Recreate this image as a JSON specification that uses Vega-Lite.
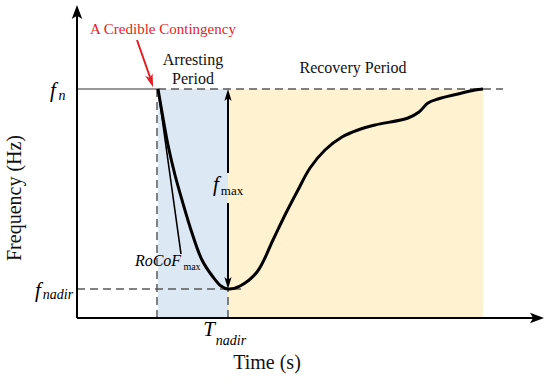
{
  "$schema": "https://vega.github.io/schema/vega-lite/v6.json",
  "width": 550,
  "height": 381,
  "padding": 0,
  "autosize": {"type": "fit", "contains": "padding"},
  "config": {"view": {"stroke": null}, "text": {"font": "Liberation Serif"}},
  "datasets": {
    "periods": [
      {"period": "Arresting", "t0": 81, "t1": 151, "f0": 0, "f1": 229},
      {"period": "Recovery", "t0": 151, "t1": 406, "f0": 0, "f1": 229}
    ],
    "dashed": [
      {"t0": 80, "f0": 0, "t1": 80, "f1": 229},
      {"t0": 151, "f0": 0, "t1": 151, "f1": 29},
      {"t0": 0, "f0": 29, "t1": 166, "f1": 29},
      {"t0": 81, "f0": 229, "t1": 426, "f1": 229}
    ],
    "thin": [
      {"t0": 0, "f0": 229, "t1": 81, "f1": 229}
    ],
    "axes": [
      {"t0": 0, "f0": 0, "t1": 0, "f1": 306},
      {"t0": 0, "f0": 0, "t1": 460, "f1": 0}
    ],
    "fmax": [
      {"t0": 151, "f0": 224, "t1": 151, "f1": 145},
      {"t0": 151, "f0": 115, "t1": 151, "f1": 34}
    ],
    "tangent": [
      {"t0": 81, "f0": 229, "t1": 104, "f1": 64}
    ],
    "redline": [
      {"t0": 60, "f0": 278, "t1": 74, "f1": 238}
    ],
    "curve": [
      {"t": 81, "f": 229},
      {"t": 86, "f": 200},
      {"t": 91, "f": 173},
      {"t": 98, "f": 143},
      {"t": 105, "f": 118},
      {"t": 115, "f": 85},
      {"t": 125, "f": 58},
      {"t": 136, "f": 41},
      {"t": 144, "f": 32},
      {"t": 151, "f": 29},
      {"t": 163, "f": 32},
      {"t": 180, "f": 46},
      {"t": 196, "f": 78},
      {"t": 208, "f": 103},
      {"t": 221, "f": 128},
      {"t": 233, "f": 150},
      {"t": 248, "f": 168},
      {"t": 265, "f": 181},
      {"t": 281, "f": 188},
      {"t": 298, "f": 193},
      {"t": 331, "f": 200},
      {"t": 342, "f": 206},
      {"t": 351, "f": 215},
      {"t": 361, "f": 219},
      {"t": 381, "f": 224},
      {"t": 398, "f": 228},
      {"t": 406, "f": 229}
    ],
    "headsUp": [
      {"t": 0, "f": 306, "size": "big"},
      {"t": 151, "f": 223, "size": "small"}
    ],
    "headsRight": [
      {"t": 460, "f": 0}
    ],
    "headsDown": [
      {"t": 151, "f": 35}
    ],
    "headsRed": [
      {"t": 74, "f": 237}
    ],
    "labels": [
      {"group": "contingency", "t": 86, "f": 289, "label": "A Credible Contingency"},
      {"group": "period", "t": 116, "f": 258, "label": "Arresting"},
      {"group": "period", "t": 116, "f": 239, "label": "Period"},
      {"group": "period", "t": 276, "f": 250, "label": "Recovery Period"},
      {"group": "axis", "t": 190, "f": -45, "label": "Time (s)"},
      {"group": "symbol", "t": -24, "f": 227, "label": "f"},
      {"group": "symbol", "t": -39, "f": 27, "label": "f"},
      {"group": "symbol", "t": 139, "f": 133, "label": "f"},
      {"group": "symbol", "t": 132, "f": -12, "label": "T"},
      {"group": "sub", "t": -15, "f": 222, "label": "n"},
      {"group": "sub", "t": -19, "f": 23, "label": "nadir"},
      {"group": "sub", "t": 154, "f": -23, "label": "nadir"},
      {"group": "rocof", "t": 81, "f": 57, "label": "RoCoF"},
      {"group": "maxbig", "t": 155, "f": 127, "label": "max"},
      {"group": "maxsmall", "t": 115, "f": 51, "label": "max"}
    ],
    "ylabel": [
      {"t": -62, "f": 120, "label": "Frequency (Hz)"}
    ]
  },
  "layer": [
    {
      "data": {"name": "periods"},
      "mark": {"type": "rect"},
      "encoding": {
        "x": {"field": "t0", "type": "quantitative", "scale": {"domain": [-77, 473], "nice": false, "zero": false}, "axis": null},
        "x2": {"field": "t1"},
        "y": {"field": "f0", "type": "quantitative", "scale": {"domain": [-63, 318], "nice": false, "zero": false}, "axis": null},
        "y2": {"field": "f1"},
        "color": {"field": "period", "type": "nominal", "scale": {"domain": ["Arresting", "Recovery"], "range": ["#dde8f5", "#fef2d0"]}, "legend": null}
      }
    },
    {
      "data": {"name": "dashed"},
      "mark": {"type": "rule", "color": "#5a5a5a", "strokeWidth": 1.5, "strokeDash": [8, 5]},
      "encoding": {
        "x": {"field": "t0", "type": "quantitative"},
        "x2": {"field": "t1"},
        "y": {"field": "f0", "type": "quantitative"},
        "y2": {"field": "f1"}
      }
    },
    {
      "data": {"name": "thin"},
      "mark": {"type": "rule", "color": "#333333", "strokeWidth": 1},
      "encoding": {
        "x": {"field": "t0", "type": "quantitative"},
        "x2": {"field": "t1"},
        "y": {"field": "f0", "type": "quantitative"},
        "y2": {"field": "f1"}
      }
    },
    {
      "data": {"name": "axes"},
      "mark": {"type": "rule", "color": "#000000", "strokeWidth": 2},
      "encoding": {
        "x": {"field": "t0", "type": "quantitative"},
        "x2": {"field": "t1"},
        "y": {"field": "f0", "type": "quantitative"},
        "y2": {"field": "f1"}
      }
    },
    {
      "data": {"name": "fmax"},
      "mark": {"type": "rule", "color": "#000000", "strokeWidth": 2},
      "encoding": {
        "x": {"field": "t0", "type": "quantitative"},
        "x2": {"field": "t1"},
        "y": {"field": "f0", "type": "quantitative"},
        "y2": {"field": "f1"}
      }
    },
    {
      "data": {"name": "tangent"},
      "mark": {"type": "rule", "color": "#000000", "strokeWidth": 1.6},
      "encoding": {
        "x": {"field": "t0", "type": "quantitative"},
        "x2": {"field": "t1"},
        "y": {"field": "f0", "type": "quantitative"},
        "y2": {"field": "f1"}
      }
    },
    {
      "data": {"name": "redline"},
      "mark": {"type": "rule", "color": "#e41e25", "strokeWidth": 2},
      "encoding": {
        "x": {"field": "t0", "type": "quantitative"},
        "x2": {"field": "t1"},
        "y": {"field": "f0", "type": "quantitative"},
        "y2": {"field": "f1"}
      }
    },
    {
      "data": {"name": "curve"},
      "mark": {"type": "line", "color": "#000000", "strokeWidth": 3, "interpolate": "catmull-rom"},
      "encoding": {
        "x": {"field": "t", "type": "quantitative"},
        "y": {"field": "f", "type": "quantitative"}
      }
    },
    {
      "data": {"name": "headsUp"},
      "transform": [{"filter": "datum.size == 'big'"}],
      "mark": {"type": "point", "filled": true, "color": "#000000", "opacity": 1, "shape": "M0,-1L0.75,1L0,0.55L-0.75,1Z", "size": 196, "angle": 0},
      "encoding": {
        "x": {"field": "t", "type": "quantitative"},
        "y": {"field": "f", "type": "quantitative"}
      }
    },
    {
      "data": {"name": "headsUp"},
      "transform": [{"filter": "datum.size == 'small'"}],
      "mark": {"type": "point", "filled": true, "color": "#000000", "opacity": 1, "shape": "M0,-1L0.6,1L0,0.5L-0.6,1Z", "size": 144, "angle": 0},
      "encoding": {
        "x": {"field": "t", "type": "quantitative"},
        "y": {"field": "f", "type": "quantitative"}
      }
    },
    {
      "data": {"name": "headsRight"},
      "mark": {"type": "point", "filled": true, "color": "#000000", "opacity": 1, "shape": "M0,-1L0.75,1L0,0.55L-0.75,1Z", "size": 196, "angle": 90},
      "encoding": {
        "x": {"field": "t", "type": "quantitative"},
        "y": {"field": "f", "type": "quantitative"}
      }
    },
    {
      "data": {"name": "headsDown"},
      "mark": {"type": "point", "filled": true, "color": "#000000", "opacity": 1, "shape": "M0,-1L0.6,1L0,0.5L-0.6,1Z", "size": 144, "angle": 180},
      "encoding": {
        "x": {"field": "t", "type": "quantitative"},
        "y": {"field": "f", "type": "quantitative"}
      }
    },
    {
      "data": {"name": "headsRed"},
      "mark": {"type": "point", "filled": true, "color": "#e41e25", "opacity": 1, "shape": "M0,-1L0.6,1L0,0.5L-0.6,1Z", "size": 169, "angle": 161},
      "encoding": {
        "x": {"field": "t", "type": "quantitative"},
        "y": {"field": "f", "type": "quantitative"}
      }
    },
    {
      "data": {"name": "labels"},
      "transform": [{"filter": "datum.group == 'contingency'"}],
      "mark": {"type": "text", "font": "Liberation Serif", "color": "#e41e25", "fontSize": 15, "align": "center", "baseline": "middle"},
      "encoding": {
        "x": {"field": "t", "type": "quantitative"},
        "y": {"field": "f", "type": "quantitative"},
        "text": {"field": "label"}
      }
    },
    {
      "data": {"name": "labels"},
      "transform": [{"filter": "datum.group == 'period'"}],
      "mark": {"type": "text", "font": "Liberation Serif", "color": "#111111", "fontSize": 16, "align": "center", "baseline": "middle"},
      "encoding": {
        "x": {"field": "t", "type": "quantitative"},
        "y": {"field": "f", "type": "quantitative"},
        "text": {"field": "label"}
      }
    },
    {
      "data": {"name": "labels"},
      "transform": [{"filter": "datum.group == 'axis'"}],
      "mark": {"type": "text", "font": "Liberation Serif", "color": "#111111", "fontSize": 20, "align": "center", "baseline": "middle"},
      "encoding": {
        "x": {"field": "t", "type": "quantitative"},
        "y": {"field": "f", "type": "quantitative"},
        "text": {"field": "label"}
      }
    },
    {
      "data": {"name": "ylabel"},
      "mark": {"type": "text", "font": "Liberation Serif", "color": "#111111", "fontSize": 20, "align": "center", "baseline": "middle", "angle": 270},
      "encoding": {
        "x": {"field": "t", "type": "quantitative"},
        "y": {"field": "f", "type": "quantitative"},
        "text": {"field": "label"}
      }
    },
    {
      "data": {"name": "labels"},
      "transform": [{"filter": "datum.group == 'symbol'"}],
      "mark": {"type": "text", "font": "Liberation Serif", "color": "#000000", "fontSize": 21, "fontStyle": "italic", "align": "center", "baseline": "middle"},
      "encoding": {
        "x": {"field": "t", "type": "quantitative"},
        "y": {"field": "f", "type": "quantitative"},
        "text": {"field": "label"}
      }
    },
    {
      "data": {"name": "labels"},
      "transform": [{"filter": "datum.group == 'sub'"}],
      "mark": {"type": "text", "font": "Liberation Serif", "color": "#000000", "fontSize": 14, "fontStyle": "italic", "align": "center", "baseline": "middle"},
      "encoding": {
        "x": {"field": "t", "type": "quantitative"},
        "y": {"field": "f", "type": "quantitative"},
        "text": {"field": "label"}
      }
    },
    {
      "data": {"name": "labels"},
      "transform": [{"filter": "datum.group == 'rocof'"}],
      "mark": {"type": "text", "font": "Liberation Serif", "color": "#000000", "fontSize": 16, "fontStyle": "italic", "align": "center", "baseline": "middle"},
      "encoding": {
        "x": {"field": "t", "type": "quantitative"},
        "y": {"field": "f", "type": "quantitative"},
        "text": {"field": "label"}
      }
    },
    {
      "data": {"name": "labels"},
      "transform": [{"filter": "datum.group == 'maxbig'"}],
      "mark": {"type": "text", "font": "Liberation Serif", "color": "#000000", "fontSize": 13, "align": "center", "baseline": "middle"},
      "encoding": {
        "x": {"field": "t", "type": "quantitative"},
        "y": {"field": "f", "type": "quantitative"},
        "text": {"field": "label"}
      }
    },
    {
      "data": {"name": "labels"},
      "transform": [{"filter": "datum.group == 'maxsmall'"}],
      "mark": {"type": "text", "font": "Liberation Serif", "color": "#000000", "fontSize": 10, "align": "center", "baseline": "middle"},
      "encoding": {
        "x": {"field": "t", "type": "quantitative"},
        "y": {"field": "f", "type": "quantitative"},
        "text": {"field": "label"}
      }
    }
  ]
}
